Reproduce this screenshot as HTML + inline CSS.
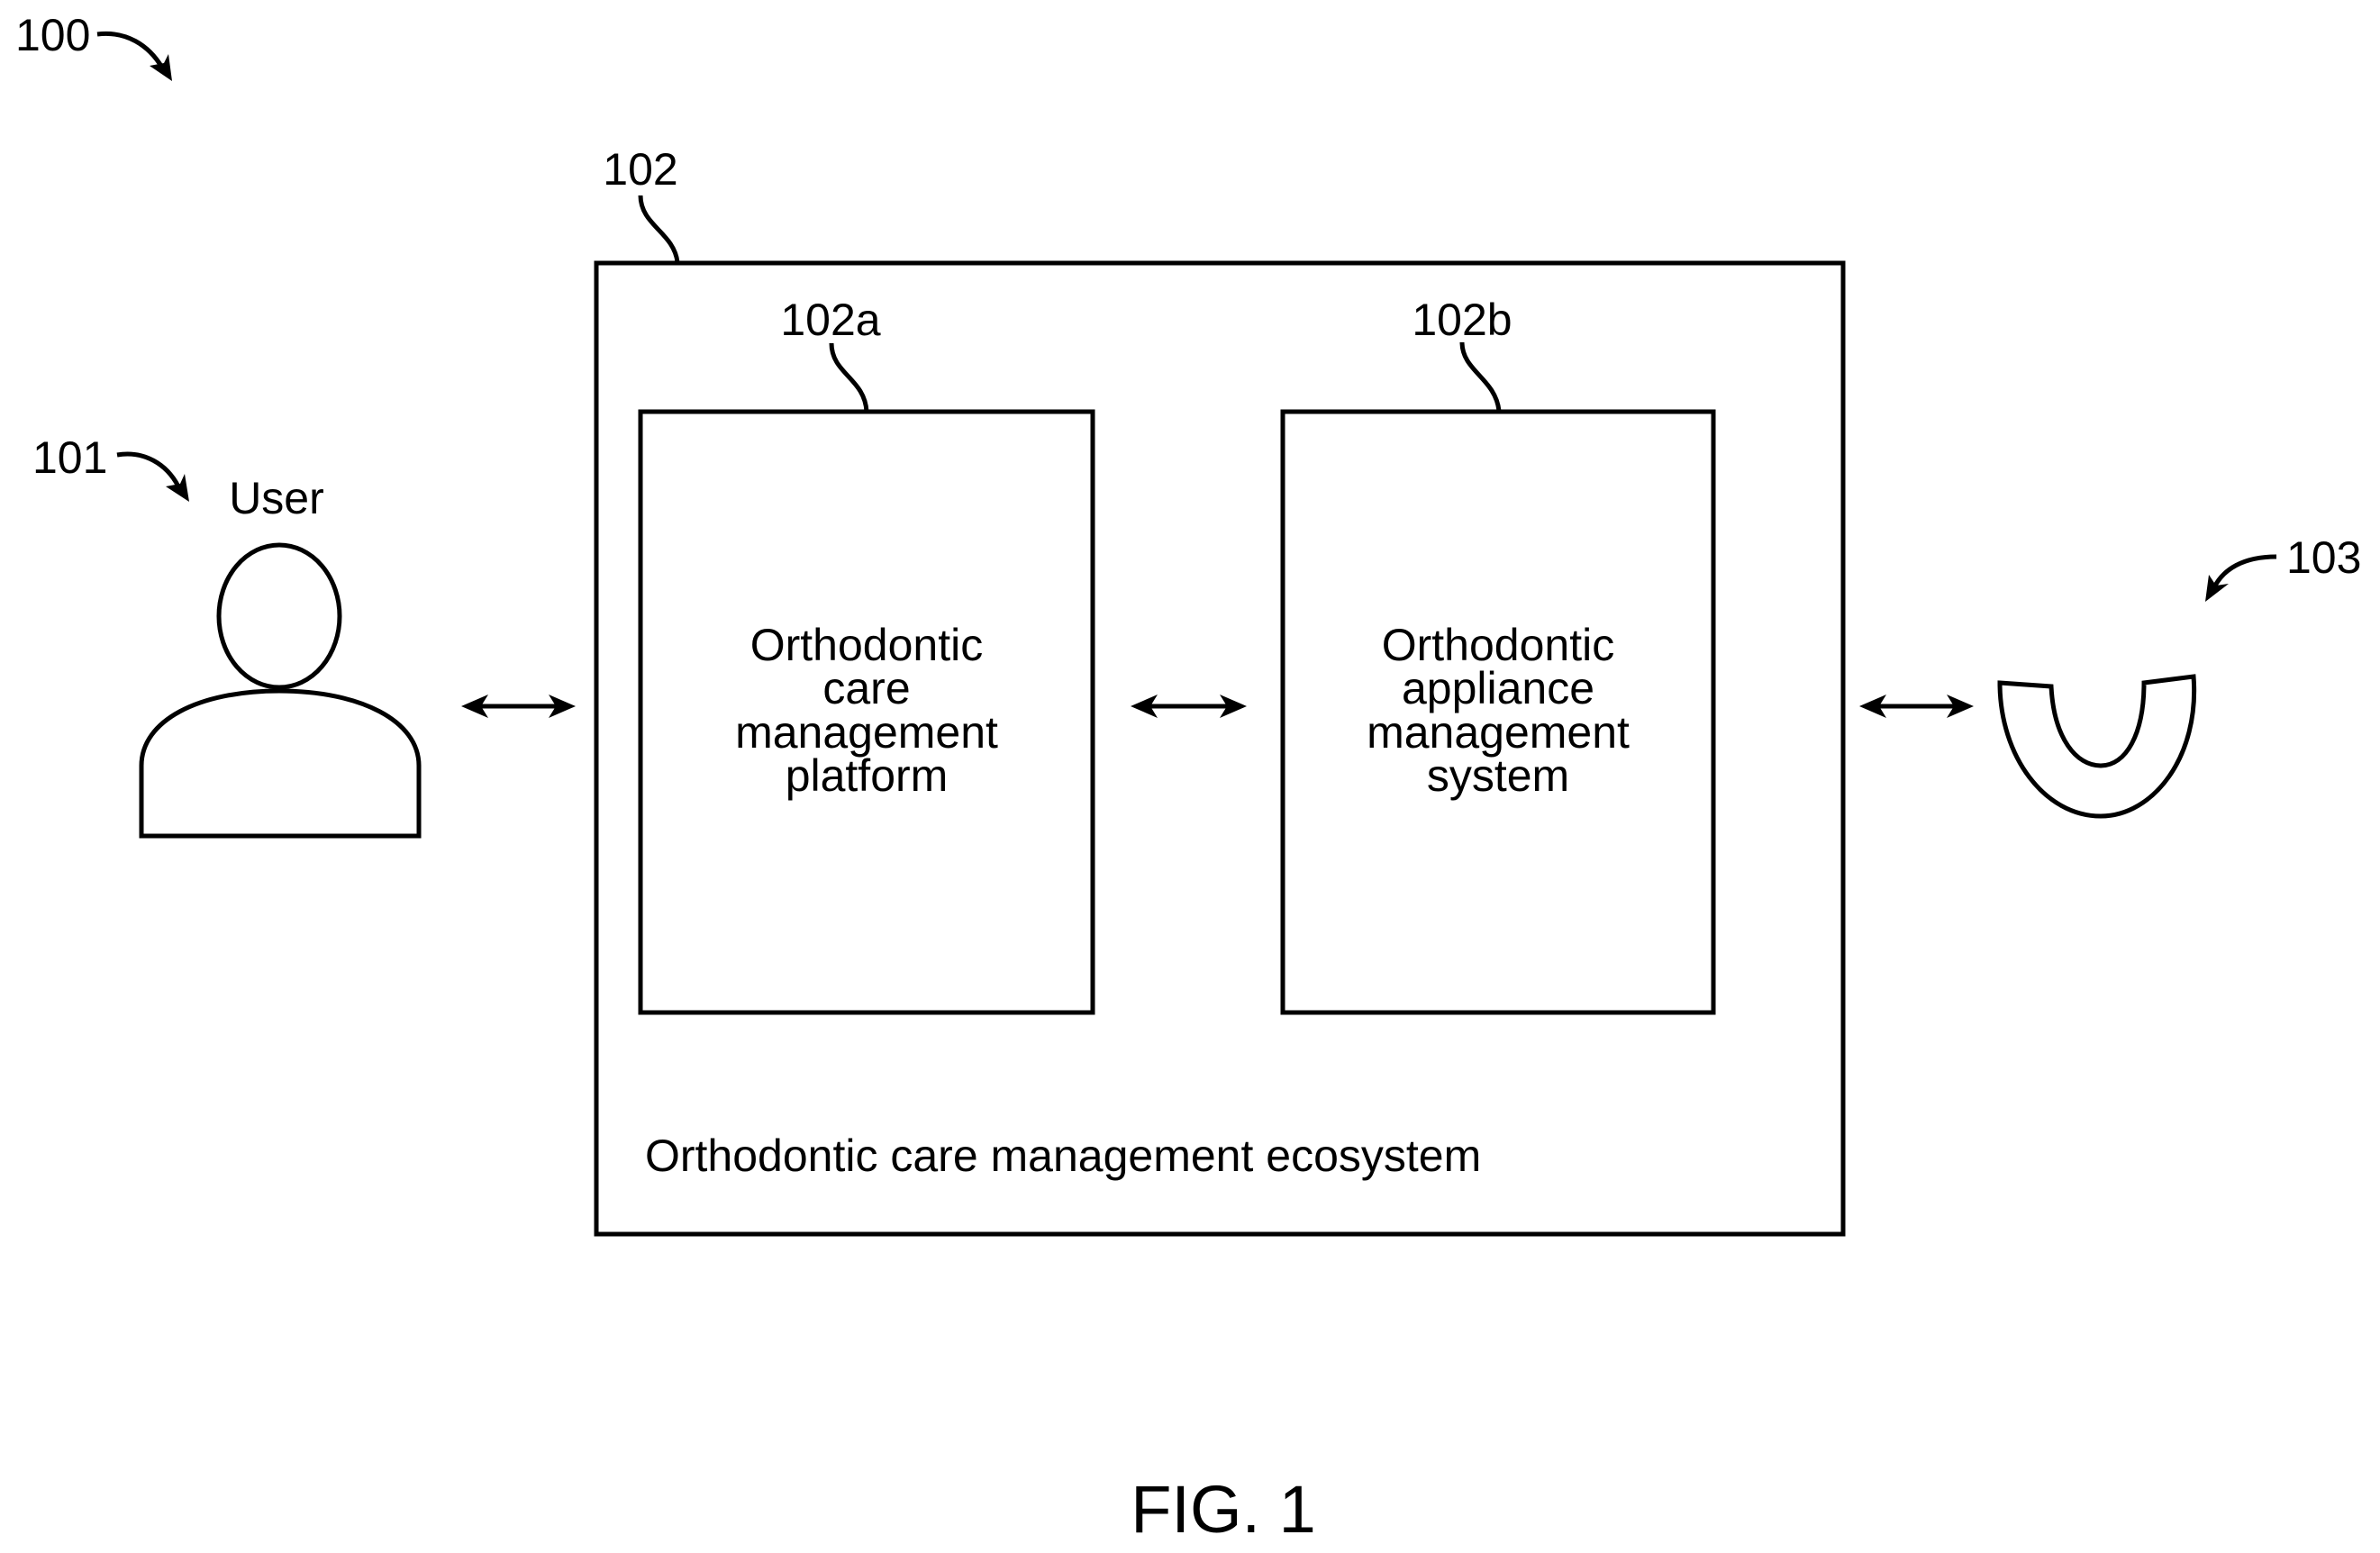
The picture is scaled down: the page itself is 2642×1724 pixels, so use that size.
<!DOCTYPE html>
<html><head><meta charset="utf-8"><style>
html,body{margin:0;padding:0;background:#fff;}
svg{display:block;}
text{font-family:"Liberation Sans",Arial,sans-serif;fill:#000;}
</style></head><body>
<svg width="2642" height="1724" viewBox="0 0 2642 1724" xmlns="http://www.w3.org/2000/svg">
<g fill="none" stroke="#000" stroke-width="5">
<rect x="662" y="292" width="1384" height="1078"/>
<rect x="711" y="457" width="502" height="667"/>
<rect x="1424" y="457" width="478" height="667"/>
<path d="M711,217 C711,250 748,258 752,291"/>
<path d="M923,381 C923,415 960,420 962,457"/>
<path d="M1623,380 C1623,412 1660,420 1664,456"/>
<ellipse cx="310" cy="684" rx="67" ry="79"/>
<path d="M157,928 L157,850 C157,800 220,767 310,767 C400,767 465,800 465,850 L465,928 Z"/>
<path d="M2220,758 L2277,762 C2280,820 2305,850 2332,850 C2360,850 2380,815 2380,758 L2435,751 C2442,840 2390,906 2332,906 C2270,906 2220,840 2220,758 Z"/>
<line x1="530" y1="784" x2="621" y2="784"/>
<line x1="1273" y1="784" x2="1366" y2="784"/>
<line x1="2082" y1="784" x2="2173" y2="784"/>
<path d="M108,38 C140,34 165,50 180,75"/>
<path d="M130,505 C160,500 185,515 198,540"/>
<path d="M2527,618 C2490,618 2468,632 2458,652"/>
</g>
<g fill="#000">
<polygon points="512,784 542,771 534,784 542,797"/>
<polygon points="639,784 609,771 617,784 609,797"/>
<polygon points="1255,784 1285,771 1277,784 1285,797"/>
<polygon points="1384,784 1354,771 1362,784 1354,797"/>
<polygon points="2064,784 2094,771 2086,784 2094,797"/>
<polygon points="2191,784 2161,771 2169,784 2161,797"/>
<polygon points="191,90 166,73 182,70 187,60"/>
<polygon points="210,557 184,540 200,537 205,526"/>
<polygon points="2448,668 2452,638 2460,650 2474,648"/>
</g>
<text x="17" y="56" font-size="50">100</text>
<text x="36" y="525" font-size="50">101</text>
<text x="2538" y="636" font-size="50">103</text>
<text x="711" y="205" font-size="50" text-anchor="middle">102</text>
<text x="922" y="372" font-size="50" text-anchor="middle">102a</text>
<text x="1623" y="372" font-size="50" text-anchor="middle">102b</text>
<text x="307" y="570" font-size="50" text-anchor="middle">User</text>
<g font-size="50" text-anchor="middle">
<text x="962" y="733">Orthodontic</text>
<text x="962" y="781">care</text>
<text x="962" y="830">management</text>
<text x="962" y="878">platform</text>
<text x="1663" y="733">Orthodontic</text>
<text x="1663" y="781">appliance</text>
<text x="1663" y="830">management</text>
<text x="1663" y="878">system</text>
</g>
<text x="716" y="1300" font-size="50">Orthodontic care management ecosystem</text>
<text x="1358" y="1701" font-size="74" text-anchor="middle">FIG. 1</text>
</svg>
</body></html>
